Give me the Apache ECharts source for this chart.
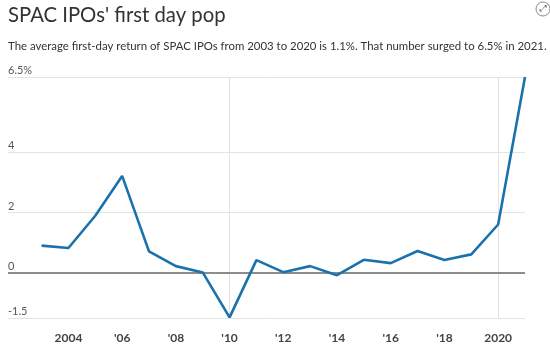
<!DOCTYPE html>
<html><head><meta charset="utf-8">
<script src="https://cdn.jsdelivr.net/npm/echarts@6/dist/echarts.min.js"></script>
<style>html,body{margin:0;padding:0;background:#fff}#c{width:550px;height:349px}</style>
</head><body><div id="c"></div>
<script>
const years = [2003,2004,2005,2006,2007,2008,2009,2010,2011,2012,2013,2014,2015,2016,2017,2018,2019,2020,2021];
const firstDayReturn = [0.91,0.83,1.9,3.22,0.72,0.23,0.02,-1.47,0.43,0.03,0.23,-0.07,0.44,0.33,0.73,0.43,0.62,1.61,6.5];
const xTickValues = [2004,2006,2008,2010,2012,2014,2016,2018,2020];
const xTickLabels = ['2004',"'06","'08","'10","'12","'14","'16","'18",'2020'];
const yTickValues = [-1.5,0,2,4,6.5];
const yTickLabels = ['-1.5','0','2','4','6.5%'];
const xGridValues = [2010,2020];

const font = 'Lato, "Open Sans", sans-serif';
const chart = echarts.init(document.getElementById('c'), null, {renderer:'canvas'});
const gridLineData = yTickValues.filter(v => v !== 0).map(v => ({yAxis: v}))
  .concat(xGridValues.map(v => ({xAxis: v})));
chart.setOption({
  animation: false,
  textStyle: {fontFamily: font},
  title: [
    {text: "SPAC IPOs' first day pop", left: 3, top: 0,
     textStyle: {fontFamily: font, fontSize: 20.3, fontWeight: 'normal', color: '#333'}},
    {text: 'The average first-day return of SPAC IPOs from 2003 to 2020 is 1.1%. That number surged to 6.5% in 2021.',
     left: 3, top: 36, textStyle: {fontFamily: font, fontSize: 11.4, fontWeight: 'normal', color: '#333'}}
  ],
  graphic: [
    {type: 'circle', shape: {cx: 543, cy: 9, r: 7}, style: {fill: '#fff', stroke: '#888', lineWidth: 1}},
    {type: 'text', x: 543, y: 9, style: {text: '⤢', fill: '#666', font: '9px DejaVu Sans', align: 'center', verticalAlign: 'middle'}}
  ],
  grid: {left: 8, right: 25, top: 77, bottom: 30.7},
  xAxis: {
    type: 'value', min: 2001.75, max: 2021,
    axisLine: {show: false}, axisTick: {show: false}, splitLine: {show: false},
    axisLabel: {
      customValues: xTickValues,
      formatter: v => xTickLabels[xTickValues.indexOf(v)] || '',
      color: '#444', fontSize: 12, fontWeight: 'bold', margin: 14, fontFamily: font
    }
  },
  yAxis: {
    type: 'value', min: -1.5, max: 6.5,
    axisLine: {show: false}, axisTick: {show: false}, splitLine: {show: false},
    axisLabel: {
      customValues: yTickValues,
      formatter: v => yTickLabels[yTickValues.indexOf(v)] || '',
      inside: true, margin: 0, verticalAlign: 'bottom', padding: [0,0,1,0],
      color: '#555', fontSize: 11, fontFamily: font
    }
  },
  series: [
    {type: 'line', data: [], silent: true,
     markLine: {silent: true, symbol: 'none', label: {show: false},
       lineStyle: {color: '#e3e3e3', width: 1, type: 'solid'}, data: gridLineData}},
    {type: 'line', data: [], silent: true,
     markLine: {silent: true, symbol: 'none', label: {show: false},
       lineStyle: {color: '#8c8c8c', width: 2, type: 'solid'}, data: [{yAxis: 0}]}},
    {type: 'line', data: years.map((y,i) => [y, firstDayReturn[i]]),
     showSymbol: false, symbol: 'none', lineStyle: {color: '#1a72ad', width: 2.6}, z: 5}
  ]
});
</script></body></html>
